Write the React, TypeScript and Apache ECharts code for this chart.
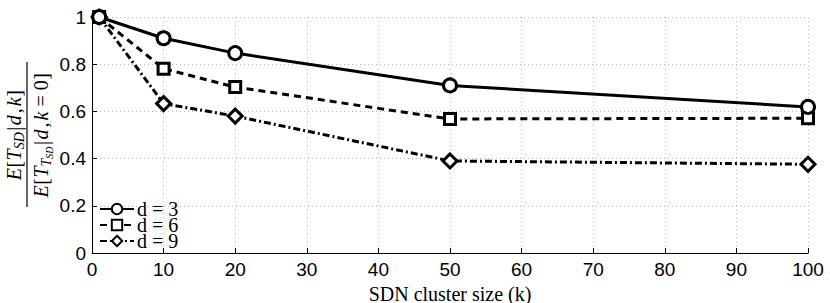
import React, { useEffect, useRef } from "react";
import * as echarts from "echarts";

const kValues = [1, 10, 20, 50, 100];
const d3Values = [1, 0.91, 0.847, 0.71, 0.619];
const d6Values = [1, 0.781, 0.703, 0.568, 0.571];
const d9Values = [1, 0.633, 0.58, 0.39, 0.376];
const seriesNames = ["d = 3", "d = 6", "d = 9"];
const xAxisName = "SDN cluster size (k)";

type Piece = { t: string; it?: boolean; size?: number; dy?: number; dx?: number };

const SERIF = "'Liberation Serif', 'Times New Roman', 'DejaVu Serif', serif";
const SANS = "'Liberation Sans', Arial, sans-serif";

function measure(p: Piece): number {
  const c = document.createElement("canvas").getContext("2d")!;
  c.font = `${p.it ? "italic " : ""}${p.size ?? 20}px ${SERIF}`;
  return c.measureText(p.t).width;
}

function layoutRow(pieces: Piece[], cy: number): any[] {
  const widths = pieces.map((p) => measure(p) + (p.dx ?? 0));
  const total = widths.reduce((a, b) => a + b, 0);
  let x = -total / 2;
  const out: any[] = [];
  pieces.forEach((p, i) => {
    out.push({
      type: "text",
      x: x + (p.dx ?? 0) / 2,
      y: cy + (p.dy ?? 0),
      style: {
        text: p.t,
        fontFamily: SERIF,
        fontSize: p.size ?? 20,
        fontStyle: p.it ? "italic" : "normal",
        fill: "#000",
        align: "left",
        verticalAlign: "middle",
        textAlign: "left",
        textVerticalAlign: "middle",
      },
    });
    x += widths[i];
  });
  return out;
}

export default function App() {
  const ref = useRef<HTMLDivElement>(null);
  useEffect(() => {
    document.body.style.margin = "0";
    document.documentElement.style.overflow = "hidden";
    const chart = echarts.init(ref.current!, undefined, { renderer: "svg", width: 830, height: 303 });
    const numerator: Piece[] = [
      { t: "E", it: true },
      { t: "[", dx: 1 },
      { t: "T", it: true },
      { t: "SD", it: true, size: 14, dy: 5 },
      { t: "|", dx: 3 },
      { t: "d", it: true },
      { t: ",", dx: 4 },
      { t: "k", it: true },
      { t: "]", dx: 1 },
    ];
    const denominator: Piece[] = [
      { t: "E", it: true },
      { t: "[", dx: 1 },
      { t: "T", it: true },
      { t: "T", it: true, size: 14, dy: 5 },
      { t: "SD", it: true, size: 10, dy: 8 },
      { t: "|", dx: 3 },
      { t: "d", it: true },
      { t: ",", dx: 4 },
      { t: "k", it: true },
      { t: "=", dx: 10 },
      { t: "0" },
      { t: "]", dx: 1 },
    ];
    const fraction = {
      type: "group",
      x: 27,
      y: 135,
      rotation: Math.PI / 2,
      children: [
        ...layoutRow(numerator, -13),
        {
          type: "line",
          shape: { x1: -72, y1: 0, x2: 73, y2: 0 },
          style: { stroke: "#000", lineWidth: 1.2 },
        },
        ...layoutRow(denominator, 14),
      ],
    };
    const mk = (name: string, vals: number[], symbol: string, size: number, dash: any, z: number) => ({
      name,
      type: "line",
      data: kValues.map((k, i) => [k, vals[i]]),
      symbol,
      symbolSize: size,
      showAllSymbol: true,
      z,
      lineStyle: { color: "#000", width: 3, type: dash },
      itemStyle: { color: "#fff", borderColor: "#000", borderWidth: 3 },
      emphasis: { disabled: true },
    });
    const legendBase = {
      orient: "vertical",
      left: 99,
      itemGap: 0,
      itemWidth: 34,
      itemHeight: 13,
      padding: 0,
      textStyle: { fontFamily: SERIF, fontSize: 20, color: "#000", lineHeight: 16, padding: [0, 0, 0, -2] },
    };
    chart.setOption({
      animation: false,
      backgroundColor: "#fff",
      grid: { left: 92, right: 22, top: 17, bottom: 50, containLabel: false, outerBoundsMode: "none" },
      xAxis: {
        type: "value",
        min: 0,
        max: 100,
        interval: 10,
        name: xAxisName,
        nameLocation: "middle",
        nameGap: 24,
        nameTextStyle: { fontFamily: SERIF, fontSize: 20, color: "#000" },
        axisLine: { lineStyle: { color: "#000", width: 1 } },
        axisTick: { inside: true, length: 5, lineStyle: { color: "#000" } },
        axisLabel: { fontFamily: SANS, fontSize: 19, color: "#000", margin: 7 },
        splitLine: { show: true, lineStyle: { color: "#b8b8b8", type: [1, 3], width: 1 } },
      },
      yAxis: {
        type: "value",
        min: 0,
        max: 1,
        interval: 0.2,
        axisLine: { show: true, lineStyle: { color: "#000", width: 1 } },
        axisTick: { show: true, inside: true, length: 5, lineStyle: { color: "#000" } },
        axisLabel: { fontFamily: SANS, fontSize: 19, color: "#000", margin: 6, formatter: (v: number) => String(+v.toFixed(1)) },
        splitLine: { show: true, lineStyle: { color: "#b8b8b8", type: [1, 3], width: 1 } },
      },
      legend: [
        { ...legendBase, top: 199, data: [seriesNames[0]] },
        { ...legendBase, top: 215, data: [seriesNames[1]] },
        { ...legendBase, top: 231, data: [seriesNames[2]] },
      ],
      series: [
        mk(seriesNames[0], d3Values, "circle", 13, "solid", 4),
        mk(seriesNames[1], d6Values, "rect", 11, [7, 5], 3),
        mk(seriesNames[2], d9Values, "diamond", 14, [7, 3, 2, 3], 2),
      ],
      graphic: [fraction],
    });
    return () => chart.dispose();
  }, []);
  return <div ref={ref} style={{ width: 830, height: 303 }} />;
}
